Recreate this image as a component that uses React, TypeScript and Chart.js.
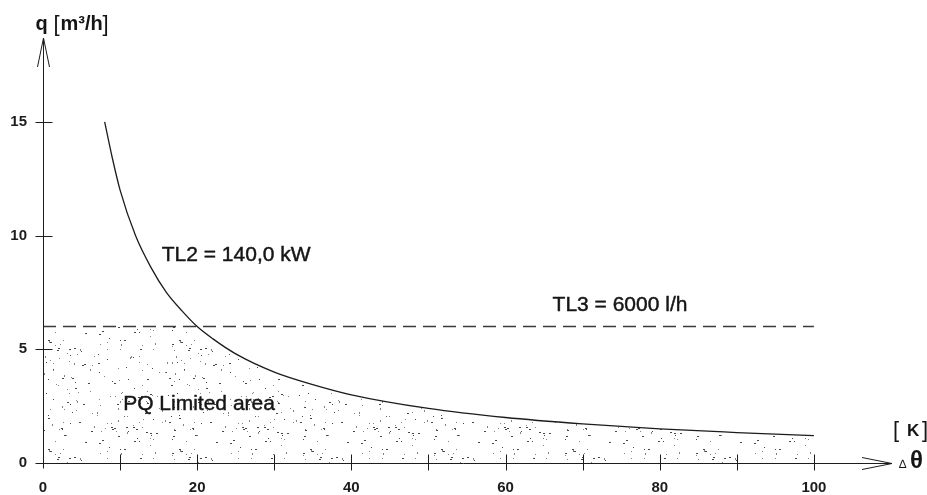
import React, { useEffect, useRef } from 'react';
import { Chart, registerables } from 'chart.js';

Chart.register(...registerables);

// ---- data ----
const DELTA_THETA = [8, 9, 10, 12, 14, 16, 18, 20, 22, 25, 30, 35, 40, 50, 60, 70, 80, 90, 100];
const Q_TL2 = [15.0, 13.4, 12.0, 10.0, 8.6, 7.5, 6.7, 6.0, 5.47, 4.8, 4.0, 3.45, 3.0, 2.4, 2.0, 1.72, 1.5, 1.34, 1.2];
const TL3_LIMIT = 6;
const TL3_RANGE = [0, 100];
const X_LABELED_TICKS = [0, 20, 40, 60, 80, 100];
const Y_LABELED_TICKS = [0, 5, 10, 15];
const LABEL_TL2 = 'TL2 = 140,0 kW';
const LABEL_TL3 = 'TL3 = 6000 l/h';
const LABEL_AREA = 'PQ Limited area';

const FONT = "'Liberation Sans', Arial, sans-serif";
const INK = '#1c1c1c';

function makeStipple(ctx: CanvasRenderingContext2D) {
  // texture only (not data): deterministic stipple dots
  const c = document.createElement('canvas');
  c.width = 131;
  c.height = 109;
  const g = c.getContext('2d')!;
  let s = 987654321;
  const rnd = () => {
    s = (Math.imul(s, 1664525) + 1013904223) >>> 0;
    return s / 4294967296;
  };
  const n = Math.round((c.width * c.height) / 74);
  for (let i = 0; i < n; i++) {
    const px = Math.floor(rnd() * c.width);
    const py = Math.floor(rnd() * c.height);
    const k = rnd();
    g.fillStyle = k < 0.45 ? 'rgba(40,40,40,0.85)' : 'rgba(80,80,80,0.7)';
    const w = k < 0.3 ? 2 : 1;
    const h = k > 0.9 ? 2 : 1;
    g.fillRect(px, py, w, h);
  }
  return ctx.createPattern(c, 'repeat')!;
}

const decorPlugin = {
  id: 'decor',
  afterDraw(chart: any) {
    const { ctx, chartArea: a, scales } = chart;
    const x = scales.x;
    const y = scales.y;
    const X0 = Math.round(x.getPixelForValue(0)) + 0.5;
    const Y0 = Math.round(y.getPixelForValue(0)) + 0.5;
    const top = a.top - 2;
    const right = a.right + 1;
    ctx.save();
    ctx.strokeStyle = INK;
    ctx.lineWidth = 1;
    ctx.beginPath();
    // y axis + open arrow
    ctx.moveTo(X0, Y0 + 5);
    ctx.lineTo(X0, top);
    ctx.moveTo(X0 - 6, top + 29);
    ctx.lineTo(X0, top);
    ctx.lineTo(X0 + 6, top + 29);
    // x axis + open arrow
    ctx.moveTo(X0 - 8, Y0);
    ctx.lineTo(right, Y0);
    ctx.moveTo(right - 30, Y0 - 6);
    ctx.lineTo(right, Y0);
    ctx.lineTo(right - 30, Y0 + 6);
    // x tick marks
    x.ticks.forEach((t: any) => {
      if (t.value > 0 && t.value <= 100) {
        const px = Math.round(x.getPixelForValue(t.value)) + 0.5;
        ctx.moveTo(px, Y0 - 9);
        ctx.lineTo(px, Y0 + 7);
      }
    });
    // y tick marks
    y.ticks.forEach((t: any) => {
      if (t.value > 0 && Y_LABELED_TICKS.includes(t.value)) {
        const py = Math.round(y.getPixelForValue(t.value)) + 0.5;
        ctx.moveTo(X0 - 8, py);
        ctx.lineTo(X0 + 9, py);
      }
    });
    ctx.stroke();

    // annotations
    ctx.fillStyle = '#151515';
    ctx.strokeStyle = '#151515';
    ctx.lineWidth = 0.45;
    ctx.textAlign = 'left';
    ctx.textBaseline = 'middle';
    ctx.font = `21px ${FONT}`;
    const labels: [string, number, number][] = [
      [LABEL_TL2, x.getPixelForValue(15.4), y.getPixelForValue(9.15)],
      [LABEL_TL3, x.getPixelForValue(66.1), y.getPixelForValue(6.93)],
      [LABEL_AREA, x.getPixelForValue(10.4), y.getPixelForValue(2.57)],
    ];
    labels.forEach(([t, px, py]) => {
      ctx.fillText(t, px, py);
      ctx.strokeText(t, px, py);
    });

    // axis titles
    ctx.textBaseline = 'alphabetic';
    ctx.font = `bold 20px ${FONT}`;
    ctx.fillText('q', X0 - 8, 30);
    ctx.fillText('m³/h', X0 + 17, 30);
    ctx.font = `22px ${FONT}`;
    ctx.fillText('[', X0 + 10, 31);
    ctx.fillText(']', X0 + 59, 31);

    ctx.font = `22px ${FONT}`;
    ctx.fillText('[', right + 1, 437);
    ctx.fillText(']', right + 30, 437);
    ctx.font = `bold 17px ${FONT}`;
    ctx.fillText('K', right + 15, 436);
    ctx.font = `12px ${FONT}`;
    ctx.fillText('∆', right + 7, 468);
    ctx.font = `bold 24px ${FONT}`;
    ctx.fillText('θ', right + 18, 468);
    ctx.restore();
  },
};

export default function App() {
  const ref = useRef<HTMLCanvasElement | null>(null);
  useEffect(() => {
    const canvas = ref.current!;
    const ctx = canvas.getContext('2d')!;
    const stipple = makeStipple(ctx);
    const curve = DELTA_THETA.map((d, i) => ({ x: d, y: Q_TL2[i] }));
    const areaPts = [{ x: TL3_RANGE[0], y: TL3_LIMIT }, ...curve];
    const tl3 = TL3_RANGE.map((d) => ({ x: d, y: TL3_LIMIT }));

    const chart = new Chart(ctx, {
      type: 'line',
      data: {
        datasets: [
          {
            label: 'TL2',
            data: curve,
            borderColor: INK,
            borderWidth: 1.3,
            pointRadius: 0,
            cubicInterpolationMode: 'monotone',
            fill: false,
          },
          {
            label: 'TL3',
            data: tl3,
            borderColor: '#3a3a3a',
            borderWidth: 1.4,
            borderDash: [13, 7],
            pointRadius: 0,
            fill: false,
          },
          {
            label: 'mask',
            data: tl3,
            borderWidth: 0,
            borderColor: 'rgba(0,0,0,0)',
            backgroundColor: '#ffffff',
            pointRadius: 0,
            fill: 'end',
          },
          {
            label: 'area',
            data: areaPts,
            borderWidth: 0,
            borderColor: 'rgba(0,0,0,0)',
            backgroundColor: stipple as any,
            pointRadius: 0,
            cubicInterpolationMode: 'monotone',
            fill: 'origin',
          },
        ],
      } as any,
      options: {
        responsive: false,
        animation: false,
        devicePixelRatio: 1,
        layout: { padding: { top: 40, right: 36, left: 0, bottom: 0 } },
        plugins: { legend: { display: false }, tooltip: { enabled: false } },
        scales: {
          x: {
            type: 'linear',
            min: 0,
            max: 110,
            grid: { display: false, drawTicks: false },
            border: { display: false },
            afterFit: (s: any) => {
              s.height = 32;
            },
            ticks: {
              stepSize: 10,
              includeBounds: false,
              autoSkip: false,
              maxRotation: 0,
              padding: 16,
              color: INK,
              font: { family: FONT, size: 15, weight: 'bold' },
              callback: (v: any) => (X_LABELED_TICKS.includes(Number(v)) ? String(v) : ''),
            },
          },
          y: {
            type: 'linear',
            min: 0,
            max: 18.6,
            grid: { display: false, drawTicks: false },
            border: { display: false },
            afterFit: (s: any) => {
              s.width = 43;
            },
            ticks: {
              stepSize: 5,
              includeBounds: false,
              autoSkip: false,
              padding: 16,
              color: INK,
              font: { family: FONT, size: 15, weight: 'bold' },
              callback: (v: any) => (Y_LABELED_TICKS.includes(Number(v)) ? String(v) : ''),
            },
          },
        },
      } as any,
      plugins: [decorPlugin],
    });
    return () => chart.destroy();
  }, []);

  return (
    <div style={{ position: 'absolute', left: 0, top: 0, width: 927, height: 495, background: '#fff' }}>
      <canvas ref={ref} width={927} height={495} style={{ display: 'block' }} />
    </div>
  );
}
